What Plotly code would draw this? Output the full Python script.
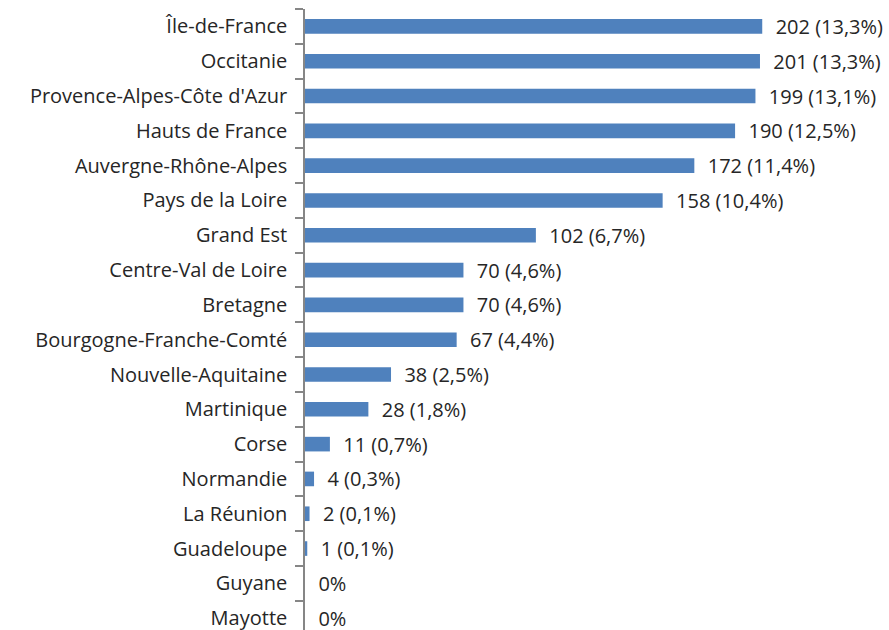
import plotly.graph_objects as go

regions = ["Île-de-France", "Occitanie", "Provence-Alpes-Côte d'Azur", "Hauts de France",
           "Auvergne-Rhône-Alpes", "Pays de la Loire", "Grand Est", "Centre-Val de Loire",
           "Bretagne", "Bourgogne-Franche-Comté", "Nouvelle-Aquitaine", "Martinique", "Corse",
           "Normandie", "La Réunion", "Guadeloupe", "Guyane", "Mayotte"]
counts = [202, 201, 199, 190, 172, 158, 102, 70, 70, 67, 38, 28, 11, 4, 2, 1, 0, 0]
percents = ["13,3%", "13,3%", "13,1%", "12,5%", "11,4%", "10,4%", "6,7%", "4,6%", "4,6%",
            "4,4%", "2,5%", "1,8%", "0,7%", "0,3%", "0,1%", "0,1%", "0%", "0%"]

labels = [("\u00a0\u00a0" + (f"{c} ({p})" if c > 0 else p)) for c, p in zip(counts, percents)]

FONT = "Open Sans"
FS = 20

fig = go.Figure(go.Bar(
    x=counts, y=regions, orientation="h",
    marker=dict(color="#4F81BD", line=dict(width=0)),
    width=0.42,
    text=labels, textposition="outside", cliponaxis=False, constraintext="none",
    textfont=dict(family=FONT, size=FS, color="#262626"),
))

fig.update_layout(
    width=889, height=630,
    margin=dict(l=305, r=0, t=9, b=0),
    paper_bgcolor="white", plot_bgcolor="white",
    showlegend=False,
    font=dict(family=FONT, size=FS, color="#262626"),
    xaxis=dict(range=[0, 258], showgrid=False, zeroline=False, showticklabels=False,
               showline=False, ticks=""),
    yaxis=dict(categoryorder="array", categoryarray=regions,
               range=[17.34, -0.5], autorange=False,
               showgrid=False, zeroline=False, showline=True, linecolor="#868686", linewidth=1.5,
               ticks="outside", ticklen=8, tickcolor="#868686", tickwidth=1.5,
               tickson="boundaries", ticklabelstandoff=12,
               tickfont=dict(family=FONT, size=FS, color="#262626")),
)

fig.write_html("out.html")
